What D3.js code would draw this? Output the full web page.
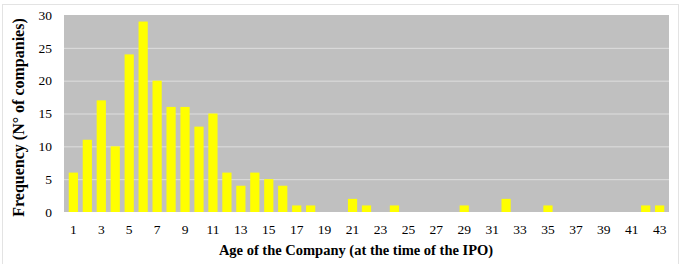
<!DOCTYPE html>
<html>
<head>
<meta charset="utf-8">
<script src="https://cdn.jsdelivr.net/npm/d3@7"></script>
<style>
  body { margin: 0; background: #fff; }
  svg text { font-family: "Liberation Serif", "Times New Roman", serif; }
</style>
</head>
<body>
<div id="chart"></div>
<script>
// ages 1..43 and number of companies for each
const ages = d3.range(1, 44);
const counts = [6, 11, 17, 10, 24, 29, 20, 16, 16, 13, 15, 6, 4, 6, 5, 4, 1, 1, 0, 0,
  2, 1, 0, 1, 0, 0, 0, 0, 1, 0, 0, 2, 0, 0, 1, 0, 0, 0, 0, 0, 0, 1, 1];
const yTicks = [0, 5, 10, 15, 20, 25, 30];
const xLabels = ages.filter((a) => a % 2 === 1);

const W = 682, H = 264;
const margin = { top: 15, right: 13, bottom: 52, left: 64 };
const width = W - margin.left - margin.right;
const height = H - margin.top - margin.bottom;

const svg = d3.select('#chart').append('svg')
  .attr('width', W)
  .attr('height', H);

// outer chart border
svg.append('rect')
  .attr('x', 2.5).attr('y', 4.5)
  .attr('width', 676).attr('height', 262)
  .attr('fill', 'none')
  .attr('stroke', '#e3e3e3');

const g = svg.append('g')
  .attr('transform', `translate(${margin.left},${margin.top})`);

const x = d3.scaleBand().domain(ages).range([0, width]).padding(0.34);
const y = d3.scaleLinear().domain([0, 30]).range([height, 0]);

g.append('rect')
  .attr('width', width).attr('height', height)
  .attr('fill', '#c0c0c0');

// gridlines
g.selectAll('.grid')
  .data(yTicks.slice(1, -1))
  .enter().append('line')
  .attr('x1', 0).attr('x2', width)
  .attr('y1', (d) => y(d) + 0.5).attr('y2', (d) => y(d) + 0.5)
  .attr('stroke', '#dedede');

g.selectAll('.bar')
  .data(counts)
  .enter().append('rect')
  .attr('class', 'bar')
  .attr('x', (d, i) => x(ages[i]))
  .attr('width', x.bandwidth())
  .attr('y', (d) => y(d))
  .attr('height', (d) => height - y(d))
  .attr('fill', '#ffff00');

const yAxis = g.append('g')
  .call(d3.axisLeft(y).tickValues(yTicks).tickSize(0).tickPadding(12));
yAxis.select('.domain').remove();
yAxis.selectAll('text')
  .style('font-size', '13.5px')
  .style('font-family', '"Liberation Serif", serif')
  .attr('fill', '#000');

const xAxis = g.append('g')
  .attr('transform', `translate(0,${height})`)
  .call(d3.axisBottom(x).tickValues(xLabels).tickSize(0).tickPadding(12));
xAxis.select('.domain').remove();
xAxis.selectAll('text')
  .style('font-size', '13.5px')
  .style('font-family', '"Liberation Serif", serif')
  .attr('fill', '#000');

svg.append('text')
  .attr('x', 356).attr('y', 255)
  .attr('text-anchor', 'middle')
  .style('font-family', '"Liberation Serif", serif')
  .style('font-size', '14.5px')
  .style('font-weight', 'bold')
  .text('Age of the Company (at the time of the IPO)');

svg.append('text')
  .attr('transform', `translate(24,${margin.top + height / 2 + 4}) rotate(-90)`)
  .attr('text-anchor', 'middle')
  .style('font-family', '"Liberation Serif", serif')
  .style('font-size', '16px')
  .style('font-weight', 'bold')
  .text('Frequency (N° of companies)');
</script>
</body>
</html>
